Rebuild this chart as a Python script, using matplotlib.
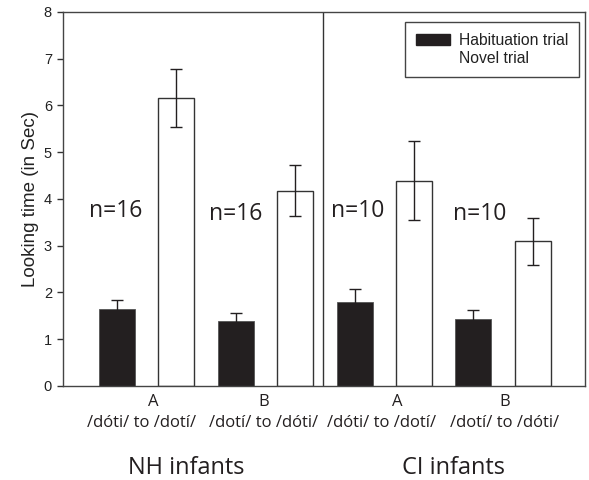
import matplotlib
matplotlib.use("Agg")
import matplotlib.pyplot as plt
from matplotlib.patches import Patch
from matplotlib.transforms import blended_transform_factory

# Looking times (sec)
conditions = ["NH A", "NH B", "CI A", "CI B"]
habituation = [1.65, 1.38, 1.80, 1.43]
habituation_err = [0.18, 0.19, 0.27, 0.20]
novel = [6.15, 4.18, 4.39, 3.09]
novel_err = [0.62, 0.55, 0.84, 0.50]
n_labels = ["n=16", "n=16", "n=10", "n=10"]
letters = ["A", "B", "A", "B"]
contrasts = ["/dóti/ to /dotí/", "/dotí/ to /dóti/", "/dóti/ to /dotí/", "/dotí/ to /dóti/"]
groups = ["NH infants", "CI infants"]

plt.rcParams["font.family"] = ["Liberation Sans", "DejaVu Sans"]

dark = "#231f20"
label_font = ["Open Sans", "DejaVu Sans"]

fig = plt.figure(figsize=(5.89, 4.8), dpi=100)
ax = fig.add_axes([0.107, 0.196, 0.887, 0.779])

hab_x = [0, 2, 4, 6]
nov_x = [1, 3, 5, 7]
w = 0.606
ax.bar(hab_x, habituation, w, color=dark, edgecolor="#555555", linewidth=0.6, zorder=2)
ax.bar(nov_x, novel, w, color="white", edgecolor="#333333", linewidth=1.0, zorder=2)
ax.errorbar(hab_x, habituation, yerr=habituation_err, fmt="none", ecolor=dark,
            elinewidth=1.0, capsize=4, capthick=1.0, zorder=3)
ax.errorbar(nov_x, novel, yerr=novel_err, fmt="none", ecolor=dark,
            elinewidth=1.0, capsize=4, capthick=1.0, zorder=3)

# divider between NH and CI groups
ax.plot([3.47, 3.47], [0, 8], color="#333333", lw=1.0, zorder=1)

ax.set_xlim(-0.909, 7.887)
ax.set_ylim(0, 8)
ax.set_yticks(range(0, 9))
ax.set_xticks([])
ax.tick_params(axis="y", direction="out", length=4, width=1, color="#333333",
               labelsize=10.5, pad=4, labelcolor="#222222")
for s in ax.spines.values():
    s.set_color("#444444")
    s.set_linewidth(1.0)
ax.set_ylabel("Looking time (in Sec)", fontsize=13.5, color="#222222", labelpad=3)

# n labels
n_x = [-0.03, 2.0, 4.05, 6.11]
n_y = [3.61, 3.55, 3.62, 3.55]
for x, y, t in zip(n_x, n_y, n_labels):
    ax.text(x, y, t, ha="center", va="baseline", fontsize=16.5, family=label_font, color=dark)

# labels below the axis
tr = blended_transform_factory(ax.transData, ax.transAxes)
letter_x = [0.606, 2.47, 4.71, 6.53]
contrast_x = [0.42, 2.47, 4.46, 6.53]
group_x = [1.16, 5.67]
for x, t in zip(letter_x, letters):
    ax.text(x, -0.043, t, transform=tr, ha="center", va="center", fontsize=12,
            family=label_font, color=dark)
for x, t in zip(contrast_x, contrasts):
    ax.text(x, -0.099, t, transform=tr, ha="center", va="center", fontsize=12,
            family=label_font, color=dark)
for x, t in zip(group_x, groups):
    ax.text(x, -0.219, t, transform=tr, ha="center", va="center", fontsize=17,
            family=label_font, color=dark)

handles = [Patch(facecolor=dark, edgecolor=dark, label="Habituation trial"),
           Patch(facecolor="white", edgecolor="none", label="Novel trial")]
leg = ax.legend(handles=handles, loc="upper right", bbox_to_anchor=(0.988, 0.973),
                borderaxespad=0, fontsize=11.3, fancybox=False, framealpha=1,
                edgecolor="#444444", handlelength=2.15, handletextpad=0.55,
                labelspacing=0.2, borderpad=0.7)
leg.get_frame().set_linewidth(1.0)
for t in leg.get_texts():
    t.set_color("#222222")

fig.savefig("out.png", dpi=100)
